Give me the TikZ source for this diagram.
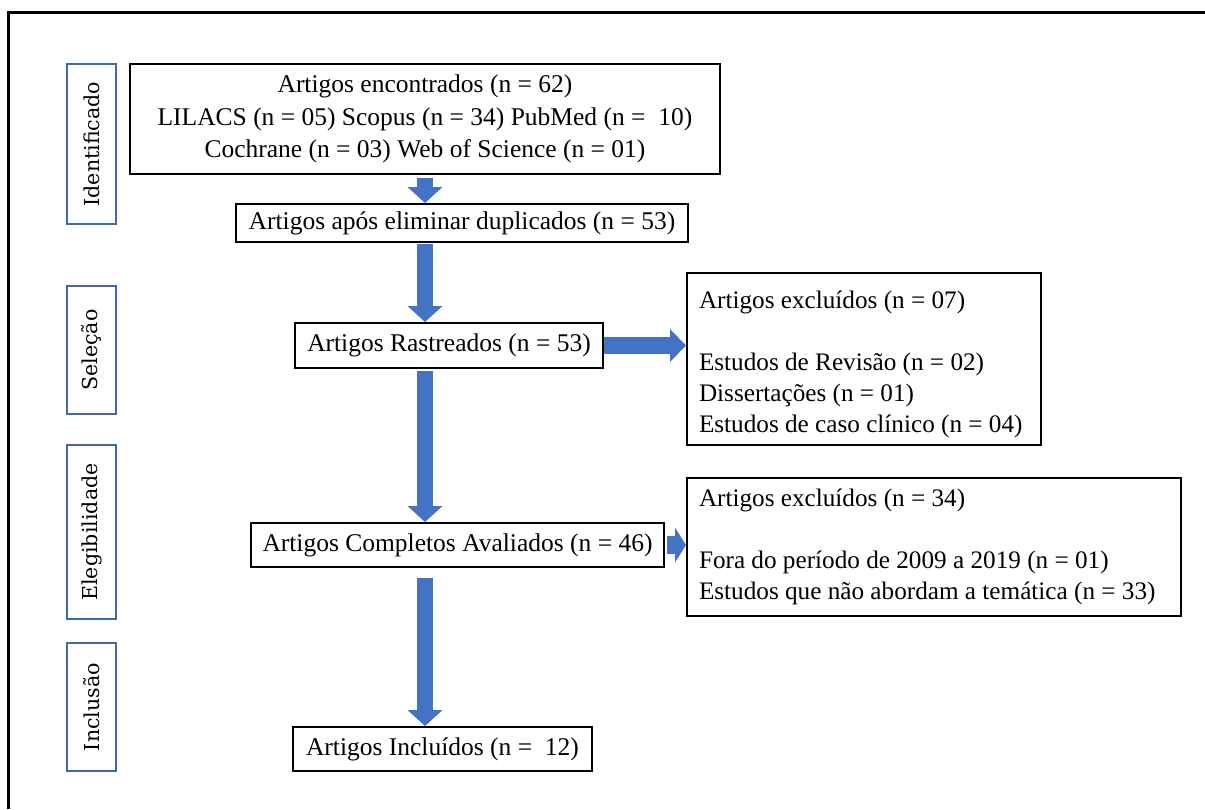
\documentclass[tikz,border=0pt]{standalone}
\usepackage{fontspec}
\setmainfont{Liberation Serif}
\newfontfamily\labfont{DejaVu Serif}
\usetikzlibrary{arrows.meta}
\definecolor{arrowblue}{HTML}{4472C4}
\definecolor{labblue}{HTML}{4169AE}
\begin{document}
\begin{tikzpicture}[x=0.5pt,y=-0.5pt,
  box/.style={draw=black, line width=1pt, inner sep=0pt, font=\fontsize{12.75}{16.25}\selectfont, align=center},
  exbox/.style={draw=black, line width=1pt, inner xsep=6pt, inner ysep=0pt, font=\fontsize{12.6}{15.5}\selectfont, align=flush left},
  stage/.style={draw=labblue, line width=1pt, rotate=90, inner sep=0pt, minimum height=24.5pt, font=\labfont\fontsize{10.3}{12}\selectfont},
  flow/.style={draw=arrowblue, line width=8pt, -{Triangle[width=17.5pt,length=8pt,line width=0pt]}},
  flowr/.style={draw=arrowblue, line width=8.5pt, -{Triangle[width=16.5pt,length=8pt,line width=0pt]}},
  flows/.style={draw=arrowblue, line width=9pt, -{Triangle[width=17.5pt,length=5.5pt,line width=0pt]}},
  frameline/.style={draw=black, line width=1.5pt}
]
\useasboundingbox (0,0) rectangle (1205,809);
% outer frame
\coordinate (fbl) at (8,809);
\coordinate (ftl) at (8,12);
\coordinate (ftr) at (1205,12);
\draw[frameline] (fbl) -- (ftl) -- (ftr);

% stage labels
\node[stage, minimum width=80pt] (s1) at (91.5,144) {Identificado};
\node[stage, minimum width=64pt] (s2) at (91.5,350) {Seleção};
\node[stage, minimum width=87pt] (s3) at (91.5,532) {Elegibilidade};
\node[stage, minimum width=64pt] (s4) at (91.5,707) {Inclusão};

% main boxes
\node[box, minimum width=295pt, minimum height=55pt] (b1) at (425,119)
  {Artigos encontrados (n = 62)\\LILACS (n = 05) Scopus (n = 34) PubMed (n = \ 10)\\Cochrane (n = 03) Web of Science (n = 01)};
\node[box, minimum width=226pt, minimum height=19pt] (b2) at (462,223) {Artigos após eliminar duplicados (n = 53)};
\node[box, minimum width=154pt, minimum height=22.5pt] (b3) at (449,345.5) {Artigos Rastreados (n = 53)};
\node[box, minimum width=206.5pt, minimum height=22pt] (b4) at (457.5,545) {Artigos Completos Avaliados (n = 46)};
\node[box, minimum width=149.5pt, minimum height=22pt] (b5) at (442.5,749) {Artigos Incluídos (n = \ 12)};

% exclusion boxes
\node[exbox, text width=165pt, minimum height=86pt] (e1) at (864,359)
  {\rule{0pt}{14.3pt}Artigos excluídos (n = 07)\\[15.5pt]Estudos de Revisão (n = 02)\\Dissertações (n = 01)\\Estudos de caso clínico (n = 04)};
\node[exbox, text width=235pt, minimum height=69pt] (e2) at (934,547)
  {Artigos excluídos (n = 34)\\[15.5pt]Fora do período de 2009 a 2019 (n = 01)\\Estudos que não abordam a temática (n = 33)};

% arrows
\coordinate (ax) at (425,0);
\draw[flow, shorten <=1.5pt] (b1.south -| ax) -- (b2.north -| ax);
\draw[flow, shorten <=0.5pt] (b2.south -| ax) -- (b3.north -| ax);
\draw[flow, shorten <=1pt] (b3.south -| ax) -- (b4.north -| ax);
\draw[flow, shorten <=5pt] (b4.south -| ax) -- (b5.north -| ax);
\draw[flowr] (b3.east) -- (b3.east -| e1.west);
\draw[flows, shorten <=1pt] (b4.east) -- (b4.east -| e2.west);
\end{tikzpicture}
\end{document}
